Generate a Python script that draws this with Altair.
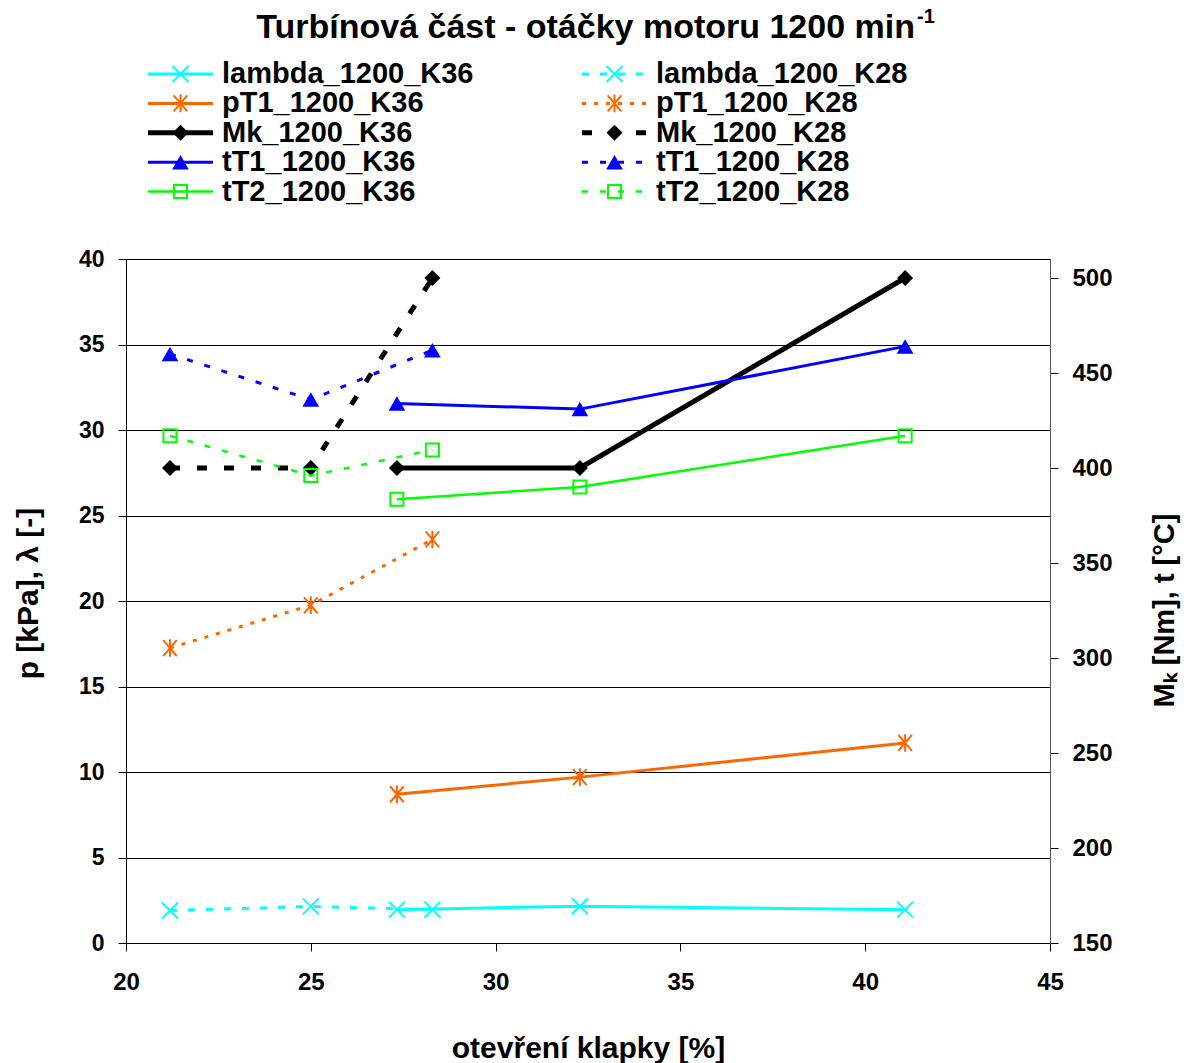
import altair as alt
import pandas as pd

# ---------------- data ----------------
x_K36 = [27.33, 32.28, 41.08]
x_K28 = [21.19, 25.0, 28.29]

lambda_K36 = [1.95, 2.15, 1.95]
lambda_K28 = [1.9, 2.14, 1.95]
pT1_K36 = [8.7, 9.7, 11.7]
pT1_K28 = [17.25, 19.75, 23.6]
Mk_K36 = [400, 400, 500]
Mk_K28 = [400, 400, 500]
tT1_K36 = [434, 431, 464]
tT1_K28 = [460, 436, 462]
tT2_K36 = [383.5, 390, 417]
tT2_K28 = [417, 396, 409.5]

x_ticks = [20, 25, 30, 35, 40, 45]
left_ticks = [0, 5, 10, 15, 20, 25, 30, 35, 40]
right_ticks = [150, 200, 250, 300, 350, 400, 450, 500]

title_main = "Turbínová část - otáčky motoru 1200 min"
title_sup = "-1"
x_title = "otevření klapky [%]"
left_title = "p [kPa], λ [-]"
right_title = "Mₖ [Nm], t [°C]"

kinds = ["lambda", "pT1", "Mk", "tT1", "tT2"]
groups = ["K36", "K28"]
values = {
    ("lambda", "K36"): lambda_K36, ("lambda", "K28"): lambda_K28,
    ("pT1", "K36"): pT1_K36, ("pT1", "K28"): pT1_K28,
    ("Mk", "K36"): Mk_K36, ("Mk", "K28"): Mk_K28,
    ("tT1", "K36"): tT1_K36, ("tT1", "K28"): tT1_K28,
    ("tT2", "K36"): tT2_K36, ("tT2", "K28"): tT2_K28,
}
xs = {"K36": x_K36, "K28": x_K28}

# ---------------- styles ----------------
FONT = "Liberation Sans"
X_PATH = "M-1,-1L1,1M-1,1L1,-1"
AST_PATH = "M-0.85,-1L0.85,1M-0.85,1L0.85,-1M0,-1.1L0,1.1"
style = {
    "lambda": dict(color="#00FFFF", width=3, shape=X_PATH, size=256, filled=False, mstroke=2, axis="left", dash=[7, 11]),
    "pT1": dict(color="#FF6600", width=3, shape=AST_PATH, size=256, filled=False, mstroke=2, axis="left", dash=[4, 8]),
    "Mk": dict(color="#000000", width=5, shape="diamond", size=256, filled=True, mstroke=0, axis="right", dash=[10, 17]),
    "tT1": dict(color="#0000FF", width=3, shape="triangle-up", size=280, filled=True, mstroke=0, axis="right", dash=[6, 12]),
    "tT2": dict(color="#00FF00", width=2.5, shape="square", size=170, filled=False, mstroke=2, axis="right", dash=[6, 12]),
}

rows = []
for k in kinds:
    for g in groups:
        for xv, yv in zip(xs[g], values[(k, g)]):
            rows.append({"series": f"{k}_1200_{g}", "x": xv, "value": yv})
df = pd.DataFrame(rows)

W, H = 924, 684

xenc = alt.X(
    "x:Q",
    scale=alt.Scale(domain=[20, 45], nice=False, zero=False),
    axis=alt.Axis(values=x_ticks, title=x_title, grid=False, tickSize=8, labelPadding=19,
                  labelFontSize=24, labelFlush=False, titleFontSize=30, titleX=W / 2, titleY=105,
                  titleBaseline="middle", titleAlign="center", domainColor="#000000",
                  tickColor="#000000"),
)
y_left = alt.Y(
    "value:Q",
    scale=alt.Scale(domain=[0, 40], nice=False, zero=False),
    axis=alt.Axis(values=left_ticks, title=left_title, grid=True, gridColor="#000000",
                  gridWidth=1, tickSize=8, labelPadding=14, labelFontSize=23, labelFlush=False,
                  titleFontSize=30, titleAngle=270, titleX=-98, titleY=334,
                  titleBaseline="middle", titleAlign="center", domainColor="#000000",
                  tickColor="#000000"),
)
y_right = alt.Y(
    "value:Q",
    scale=alt.Scale(domain=[150, 510], nice=False, zero=False),
    axis=alt.Axis(orient="right", values=right_ticks, title=right_title, grid=False,
                  tickSize=8, labelPadding=14, labelFontSize=24, labelFlush=False, titleFontSize=29,
                  titleAngle=270, titleX=114, titleY=351, titleBaseline="middle",
                  titleAlign="center", domainColor="#555555", tickColor="#000000"),
)

left_layers, right_layers = [], []
for g in groups:
    for k in kinds:
        s = style[k]
        name = f"{k}_1200_{g}"
        base = alt.Chart(df).transform_filter(alt.datum.series == name)
        yenc = y_left if s["axis"] == "left" else y_right
        line_kw = dict(color=s["color"], strokeWidth=s["width"])
        if g == "K28":
            line_kw["strokeDash"] = s["dash"]
        line = base.mark_line(**line_kw).encode(x=xenc, y=yenc)
        pt_kw = dict(shape=s["shape"], size=s["size"], filled=s["filled"], opacity=1,
                     color=s["color"])
        if s["mstroke"]:
            pt_kw["strokeWidth"] = s["mstroke"]
        pts = base.mark_point(**pt_kw).encode(x=xenc, y=yenc)
        (left_layers if s["axis"] == "left" else right_layers).extend([line, pts])

main = (
    alt.layer(alt.layer(*left_layers), alt.layer(*right_layers))
    .resolve_scale(y="independent")
    .properties(width=W, height=H, view=alt.ViewBackground(stroke="#808080", strokeWidth=1))
)

# ---------------- legend + title panel ----------------
LH = 258
col_x = [22, 456]          # symbol line start in each column (panel px)
sym_len = 65
row_y0, row_step = 73, 29.4
leg = []
for i, k in enumerate(kinds):
    for c, g in enumerate(groups):
        leg.append({"series": f"{k}_1200_{g}", "kind": k, "grp": g,
                    "x0": col_x[c], "x1": col_x[c] + sym_len, "xm": col_x[c] + sym_len / 2,
                    "xt": col_x[c] + sym_len + 9, "y": row_y0 + i * row_step})
leg_df = pd.DataFrame(leg)

lx = alt.Scale(domain=[0, W], nice=False, zero=False)
ly = alt.Scale(domain=[0, LH], nice=False, zero=False, reverse=True)

leg_layers = []
for rec in leg:
    s = style[rec["kind"]]
    base = alt.Chart(leg_df).transform_filter(alt.datum.series == rec["series"])
    rk = dict(color=s["color"], strokeWidth=s["width"])
    if rec["grp"] == "K28":
        rk["strokeDash"] = s["dash"]
    leg_layers.append(base.mark_rule(**rk).encode(
        x=alt.X("x0:Q", scale=lx, axis=None), x2="x1:Q", y=alt.Y("y:Q", scale=ly, axis=None)))
    pt_kw = dict(shape=s["shape"], size=s["size"], filled=s["filled"], opacity=1, color=s["color"])
    if s["mstroke"]:
        pt_kw["strokeWidth"] = s["mstroke"]
    leg_layers.append(base.mark_point(**pt_kw).encode(
        x=alt.X("xm:Q", scale=lx, axis=None), y=alt.Y("y:Q", scale=ly, axis=None)))

leg_text = alt.Chart(leg_df).mark_text(
    align="left", baseline="middle", font=FONT, fontSize=29, fontWeight="bold", color="#000000"
).encode(x=alt.X("xt:Q", scale=lx, axis=None), y=alt.Y("y:Q", scale=ly, axis=None), text="series:N")

title_df = pd.DataFrame({"t": [title_main], "s": [title_sup], "x": [789], "xs": [791], "y": [37], "ys": [22]})
t1 = alt.Chart(title_df).mark_text(
    align="right", baseline="alphabetic", font=FONT, fontSize=34, fontWeight="bold", color="#000000"
).encode(x=alt.X("x:Q", scale=lx, axis=None), y=alt.Y("y:Q", scale=ly, axis=None), text="t:N")
t2 = alt.Chart(title_df).mark_text(
    align="left", baseline="alphabetic", font=FONT, fontSize=20, fontWeight="bold", color="#000000"
).encode(x=alt.X("xs:Q", scale=lx, axis=None), y=alt.Y("ys:Q", scale=ly, axis=None), text="s:N")

legend_panel = alt.layer(*leg_layers, leg_text, t1, t2).properties(
    width=W, height=LH, view=alt.ViewBackground(stroke="transparent")
)

chart = (
    alt.vconcat(legend_panel, main, spacing=0, bounds="flush")
    .properties(padding={"left": 12, "top": 0, "right": 5, "bottom": 5}, background="#ffffff")
    .configure_axis(labelFont=FONT, labelFontWeight="bold", labelColor="#000000",
                    titleFont=FONT, titleFontWeight="bold", titleColor="#000000",
                    domainWidth=1, tickWidth=1)
)

chart.save("out.html", embed_options={"renderer": "svg", "actions": False})
